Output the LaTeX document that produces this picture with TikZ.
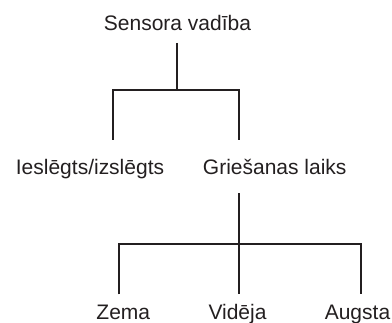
\documentclass[tikz,border=0pt]{standalone}
\usepackage{fontspec}
\setmainfont{Liberation Sans}
\definecolor{ink}{HTML}{231F20}
\begin{document}
\begin{tikzpicture}[x=1pt,y=-1pt,
  lbl/.style={anchor=base,inner sep=0pt,text=ink,font=\fontsize{21}{25}\selectfont},
  conn/.style={draw=ink,line width=2pt,line join=miter}]
\useasboundingbox (0,0) rectangle (392,323);
% labels
\node[lbl] (root) at (177.5,31) {Sensora vadība};
\node[lbl] (ies) at (90,175) {Ieslēgts/izslēgts};
\node[lbl] (gri) at (274.7,175) {Griešanas laiks};
\node[lbl] (zema) at (123.3,320) {Zema};
\node[lbl] (vid) at (237.5,320) {Vidēja};
\node[lbl] (aug) at (357.5,320) {Augsta};
% connector points
\coordinate (r0) at (177.3,43);
\coordinate (r1) at (177.3,90);
\coordinate (a1) at (113.3,140);
\coordinate (b1) at (239,140);
\coordinate (g0) at (239,193.3);
\coordinate (g1) at (239,244.3);
\coordinate (a2) at (119,294.3);
\coordinate (b2) at (239,294.3);
\coordinate (c2) at (360.7,294.3);
% connectors
\draw[conn] (r0) -- (r1);
\draw[conn] (a1) |- (r1) -| (b1);
\draw[conn] (g0) -- (b2);
\draw[conn] (a2) |- (g1) -| (c2);
\end{tikzpicture}
\end{document}
